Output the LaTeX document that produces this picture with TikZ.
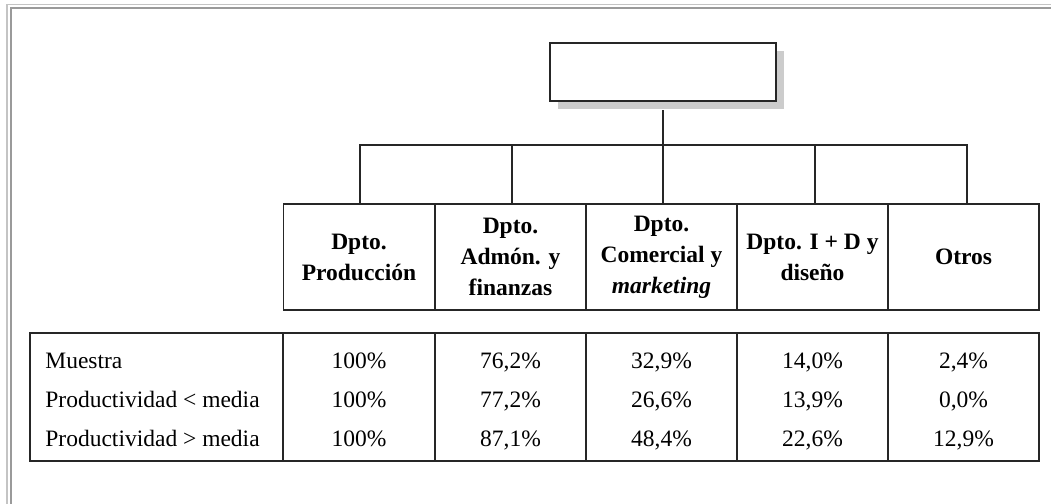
\documentclass[tikz,border=0pt]{standalone}
\usepackage{fontspec}
\setmainfont{Liberation Serif}
\definecolor{framelight}{HTML}{C4C4C4}
\definecolor{framedark}{HTML}{9A9A9A}
\definecolor{shadowgray}{HTML}{CCCCCC}
\begin{document}
\begin{tikzpicture}[x=0.5pt,y=-0.5pt,
  line/.style={line width=0.7pt, draw=black!85},
  deptcell/.style={line, draw, minimum width=75.5pt, minimum height=53pt, inner sep=0pt, align=center, font=\fontsize{11.75}{15.5}\selectfont\bfseries},
  datatext/.style={inner sep=0pt, font=\fontsize{11.75}{14}\selectfont}]
\useasboundingbox (0,0) rectangle (1051,504);
% frame
\draw[framelight, line width=0.6pt] (7,504) -- (7,4.5) -- (1051,4.5);
\draw[framedark, line width=1pt] (10.5,504) -- (10.5,8) -- (1051,8);
% top box
\node[fill=shadowgray, minimum width=113pt, minimum height=29pt] (rootshadow) at (670.5,79.5){};
\node[line, draw, fill=white, minimum width=113pt, minimum height=29pt] (root) at (663,72){};
\coordinate (rootfoot) at (663,110);
\coordinate (bus) at (663,145);
% departments
\node[deptcell] (dprod) at (359,257){Dpto.\\Producción};
\node[deptcell] (dadmin) at (510.5,257){Dpto.\\Admón. y\\finanzas};
\node[deptcell] (dcom) at (661.5,257){Dpto.\\Comercial y\\\textit{marketing}};
\node[deptcell] (did) at (812.5,257){Dpto. I + D y\\diseño};
\node[deptcell] (dotros) at (963.5,257){Otros};
\draw[line](rootfoot) -- (bus);
\draw[line]([xshift=0.5pt]dprod.north) |- (bus) -| ([xshift=1.75pt]dotros.north);
\draw[line]([xshift=0.75pt]dadmin.north) -- ([xshift=0.75pt]dadmin.north |- bus);
\draw[line]([xshift=0.75pt]dcom.north) -- ([xshift=0.75pt]dcom.north |- bus);
\draw[line]([xshift=1.25pt]did.north) -- ([xshift=1.25pt]did.north |- bus);
% data table
\draw[line] (30,333) rectangle (1039,461);
\draw[line] (283,333) -- (283,461);
\draw[line] (435,333) -- (435,461);
\draw[line] (586,333) -- (586,461);
\draw[line] (737,333) -- (737,461);
\draw[line] (888,333) -- (888,461);
\node[datatext, anchor=base west] (rmuestra) at (45,368){Muestra};
\node[datatext, anchor=base west] (rmenor) at (45,407){Productividad < media};
\node[datatext, anchor=base west] (rmayor) at (45,446.5){Productividad > media};
\node[datatext, anchor=base] (v11) at (359,368){100\%};
\node[datatext, anchor=base] (v12) at (510.5,368){76,2\%};
\node[datatext, anchor=base] (v13) at (661.5,368){32,9\%};
\node[datatext, anchor=base] (v14) at (812.5,368){14,0\%};
\node[datatext, anchor=base] (v15) at (963.5,368){2,4\%};
\node[datatext, anchor=base] (v21) at (359,407){100\%};
\node[datatext, anchor=base] (v22) at (510.5,407){77,2\%};
\node[datatext, anchor=base] (v23) at (661.5,407){26,6\%};
\node[datatext, anchor=base] (v24) at (812.5,407){13,9\%};
\node[datatext, anchor=base] (v25) at (963.5,407){0,0\%};
\node[datatext, anchor=base] (v31) at (359,446.5){100\%};
\node[datatext, anchor=base] (v32) at (510.5,446.5){87,1\%};
\node[datatext, anchor=base] (v33) at (661.5,446.5){48,4\%};
\node[datatext, anchor=base] (v34) at (812.5,446.5){22,6\%};
\node[datatext, anchor=base] (v35) at (963.5,446.5){12,9\%};
\end{tikzpicture}
\end{document}
